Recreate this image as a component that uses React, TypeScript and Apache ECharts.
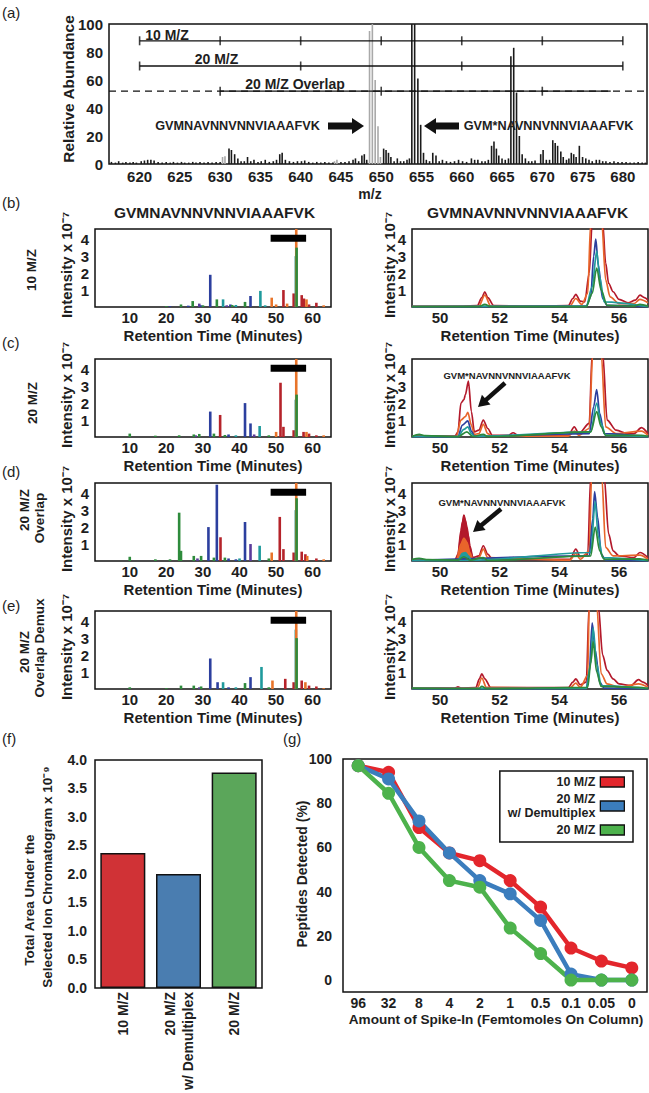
import React, { useEffect, useRef } from "react";
import * as echarts from "echarts";

const FONT = '"Liberation Sans", Arial, sans-serif';
const INK = "#1e1e1e";

// ---------- (a) spectrum ----------
const mzTicks = [620, 625, 630, 635, 640, 645, 650, 655, 660, 665, 670, 675, 680];
const abundanceTicks = [0, 20, 40, 60, 80, 100];
const spectrumUnmod: [number, number][] = [
  [630.3, 5], [630.6, 5.5], [644.2, 2], [644.5, 3],
  [648.55, 95], [648.9, 100], [649.25, 60], [649.6, 27], [649.9, 5],
];
const spectrumOther: [number, number][] = [
  [616.5, 1.5], [617.0, 1], [617.4, 2], [617.9, 1], [618.3, 1.5], [618.8, 1], [619.2, 1.5], [619.6, 1],
  [620.2, 2], [620.6, 2.5], [621.0, 3], [621.4, 3], [621.8, 2.5], [622.3, 1.5], [622.8, 1], [623.3, 1.5],
  [623.8, 1], [624.2, 1.5], [624.7, 1], [625.2, 1.5], [625.6, 1], [626.1, 1], [626.6, 1.5], [627.0, 1],
  [627.5, 1.5], [628.0, 1], [628.5, 1.5], [629.0, 1], [629.5, 1.5], [630.0, 1.5],
  [631.1, 11], [631.4, 10], [631.8, 7], [632.2, 4], [632.6, 2], [633.0, 2], [633.4, 5], [633.8, 2],
  [634.2, 3], [634.7, 1.5], [635.1, 2], [635.6, 3], [636.1, 1.5], [636.6, 2], [637.0, 3], [637.4, 7],
  [637.7, 8], [638.1, 3], [638.6, 2], [639.1, 1.5], [639.6, 2], [640.1, 2], [640.5, 2.5], [641.0, 1.5],
  [641.5, 1], [642.0, 1.5], [642.5, 1], [643.0, 1.5], [643.5, 1], [644.0, 1], [645.0, 1.5], [645.5, 1.5],
  [646.0, 2], [646.5, 3], [646.8, 4], [647.2, 2], [647.6, 6], [647.9, 7], [648.2, 3],
  [650.3, 11], [650.6, 10], [650.9, 8], [651.2, 5], [651.6, 2], [652.0, 4], [652.4, 2], [652.8, 2],
  [653.2, 3], [653.5, 4],
  [653.8, 100], [654.15, 100], [654.55, 61], [654.9, 28], [655.25, 8], [655.6, 3], [656.0, 2],
  [656.4, 8], [656.8, 6], [657.2, 2], [657.6, 3], [658.1, 2], [658.6, 1.5], [659.1, 2], [659.6, 3],
  [660.1, 2], [660.6, 1.5], [661.2, 4], [661.6, 3], [662.0, 3], [662.5, 2], [662.9, 2], [663.3, 3],
  [663.7, 13], [664.0, 16], [664.3, 11], [664.6, 6], [665.0, 4], [665.4, 3], [665.8, 4],
  [666.1, 77], [666.45, 83], [666.8, 51], [667.15, 20], [667.5, 7], [667.9, 4], [668.3, 2], [668.7, 2],
  [669.1, 2.5], [669.8, 7], [670.1, 10], [670.5, 3], [670.9, 3],
  [671.3, 17], [671.6, 15], [671.9, 13], [672.3, 9], [672.6, 5], [673.0, 3], [673.3, 4],
  [673.6, 8], [673.9, 7], [674.2, 5], [674.6, 13], [675.0, 5], [675.4, 4], [675.8, 3], [676.2, 2],
  [676.7, 3], [677.1, 3], [677.5, 2], [677.9, 2], [678.4, 1.5], [678.9, 2], [679.4, 1.5], [679.9, 1.5],
  [680.4, 1.5], [680.9, 1], [681.4, 1], [681.9, 1.5], [682.4, 1], [682.8, 1],
];
const win10 = [620, 630, 640, 650, 660, 670, 680];
const win20 = [620, 640, 660, 680];
const winOverlap = [630, 650, 670];
const winLevel10 = 88;
const winLevel20 = 70;
const winLevelOverlap = 52;
const overlapSolidEnd = 678.5;

// ---------- (b)-(e) chromatograms ----------
const chromTicksLeft = [10, 20, 30, 40, 50, 60];
const chromTicksRight = [50, 52, 54, 56];
const intensityTicks = [1, 2, 3, 4];
const peptide = "GVMNAVNNVNNVIAAAFVK";
const peptideOx = "GVM*NAVNNVNNVIAAAFVK";
const markerSpan = [48.5, 58.2];
const markerLevel = 4.05;

type P = [number, number][];
const leftB: Record<string, P> = {
  purple: [[29, 0.2], [36.5, 0.1]],
  blue: [[21, 0.05], [26, 0.08], [29.5, 0.1], [32, 1.9], [37.5, 0.15], [43, 0.65]],
  red: [[52, 1.0], [54.8, 0.8], [57, 0.7], [57.6, 0.5], [59, 0.15], [61, 0.25]],
  teal: [[35.5, 0.45], [39, 0.12], [45.7, 0.95], [47, 0.1], [55.4, 3.0]],
  orange: [[48.8, 0.55], [50, 0.15], [53, 0.2], [55.5, 5], [58.3, 0.45], [63, 0.1]],
  green: [[20, 0.05], [24, 0.15], [27.2, 0.35], [30, 0.1], [33.8, 0.45], [38, 0.12], [41.5, 0.3], [55.6, 3.5]],
};
const leftC: Record<string, P> = {
  purple: [[28, 0.1], [44, 0.15]],
  blue: [[32, 1.5], [37, 0.15], [41.5, 2.0], [43, 0.8]],
  red: [[34.7, 1.3], [51.2, 3.2], [52, 0.6], [54.8, 0.4], [57.5, 0.3], [59, 0.2], [61, 0.1]],
  teal: [[39, 0.1], [45.5, 0.65], [55.4, 2.2]],
  orange: [[50, 0.3], [55.5, 5], [58.3, 0.3], [63, 0.1]],
  green: [[10, 0.2], [17, 0.08], [23.5, 0.1], [27.5, 0.15], [29, 0.18], [33, 0.2], [36, 0.12], [48, 0.1], [55.6, 2.5]],
};
const leftD: Record<string, P> = {
  purple: [[28.5, 0.15], [43, 1.0]],
  blue: [[31.5, 2.0], [33.8, 4.5], [37, 0.15], [39, 0.1], [41.5, 2.3]],
  red: [[34.8, 1.4], [51, 2.6], [52, 0.7], [54.8, 0.5], [57, 0.55], [58, 0.4], [61, 0.15]],
  teal: [[40, 0.15], [45.5, 0.9], [55.4, 3.0]],
  orange: [[48.8, 0.5], [55.5, 5], [58.5, 0.3], [63, 0.1]],
  green: [[10, 0.25], [17, 0.1], [21, 0.1], [23.5, 2.85], [24, 0.6], [27.5, 0.3], [29.5, 0.3], [33, 0.2], [36, 0.2], [48, 0.15], [55.6, 3.7]],
};
const leftE: Record<string, P> = {
  purple: [[29, 0.1]],
  blue: [[32, 1.8], [34, 0.4], [37, 0.1], [43, 0.7]],
  red: [[52.5, 0.6], [54.8, 0.4], [57, 0.5], [59, 0.2], [61, 0.15]],
  teal: [[35.5, 0.4], [39, 0.1], [46, 1.3], [55.4, 3.5]],
  orange: [[49, 0.5], [55.5, 5], [58, 0.4], [63, 0.05]],
  green: [[10, 0.1], [20, 0.05], [24, 0.2], [27.5, 0.2], [29.5, 0.15], [41.5, 0.35], [48, 0.1], [55.6, 3.0]],
};

const rightB: Record<string, P> = {
  darkred: [[49.06, 0.04], [50.5, 0.04], [51.25, 0.08], [51.4, 0.55], [51.5, 0.9], [51.6, 0.55], [51.8, 0.08], [53.0, 0.05], [54.3, 0.08], [54.45, 0.5], [54.55, 0.75], [54.7, 0.35], [54.85, 0.3], [55.0, 2.0], [55.1, 5], [55.45, 5], [55.55, 2.6], [55.65, 1.4], [55.8, 0.9], [56.0, 0.45], [56.3, 0.25], [56.55, 0.4], [56.7, 0.7], [56.85, 0.55], [56.97, 0.4]],
  orange: [[49.06, 0.03], [51.3, 0.05], [51.5, 0.7], [51.7, 0.05], [54.35, 0.05], [54.55, 0.5], [54.75, 0.15], [54.95, 0.8], [55.05, 5], [55.42, 5], [55.55, 1.6], [55.7, 0.6], [56.0, 0.2], [56.5, 0.2], [56.7, 0.45], [56.97, 0.25]],
  blue: [[49.06, 0.02], [54.9, 0.05], [55.05, 0.6], [55.15, 3.0], [55.22, 4.0], [55.3, 2.5], [55.45, 0.5], [55.6, 0.1], [56.97, 0.02]],
  teal: [[49.06, 0.02], [54.9, 0.04], [55.1, 1.2], [55.25, 3.3], [55.35, 1.8], [55.5, 0.3], [56.97, 0.02]],
  green: [[49.06, 0.02], [51.3, 0.02], [51.5, 0.15], [51.7, 0.02], [54.9, 0.02], [55.1, 0.8], [55.25, 2.3], [55.4, 1.0], [55.6, 0.1], [56.5, 0.05], [56.7, 0.15], [56.97, 0.05]],
};
const rightC: Record<string, P> = {
  darkred: [[49.06, 0.05], [50.5, 0.05], [50.6, 0.3], [50.7, 2.0], [50.8, 2.2], [50.85, 2.5], [50.95, 3.3], [51.05, 1.5], [51.15, 0.3], [51.3, 0.4], [51.45, 1.0], [51.6, 0.5], [51.75, 0.1], [52.3, 0.1], [52.45, 0.25], [52.6, 0.1], [54.3, 0.1], [54.5, 0.6], [54.65, 0.2], [55.0, 0.8], [55.1, 5], [55.45, 5], [55.6, 1.0], [55.9, 0.4], [56.3, 0.2], [56.5, 0.2], [56.75, 0.55], [56.97, 0.2]],
  orange: [[49.06, 0.03], [50.55, 0.05], [50.7, 1.0], [50.85, 1.2], [50.93, 1.45], [51.05, 0.7], [51.15, 0.15], [51.3, 0.2], [51.45, 0.75], [51.6, 0.2], [51.75, 0.05], [54.3, 0.05], [54.5, 0.35], [54.65, 0.1], [55.0, 0.5], [55.12, 5], [55.4, 5], [55.55, 0.6], [55.9, 0.2], [56.75, 0.35], [56.97, 0.1]],
  blue: [[49.06, 0.02], [50.6, 0.03], [50.75, 0.7], [50.93, 0.95], [51.05, 0.35], [51.15, 0.05], [55.0, 0.2], [55.15, 1.8], [55.25, 2.8], [55.35, 1.4], [55.5, 0.2], [56.97, 0.02]],
  teal: [[49.06, 0.02], [50.6, 0.02], [50.8, 0.45], [50.93, 0.6], [51.05, 0.2], [51.15, 0.03], [55.05, 0.3], [55.25, 2.0], [55.4, 0.8], [55.55, 0.1], [56.97, 0.02]],
  green: [[49.06, 0.03], [49.3, 0.15], [49.5, 0.08], [50.6, 0.02], [50.9, 0.3], [51.1, 0.03], [51.45, 0.15], [51.6, 0.02], [55.05, 0.3], [55.25, 1.5], [55.4, 0.6], [55.55, 0.1], [56.75, 0.1], [56.97, 0.03]],
};
const rightD: Record<string, P> = {
  darkred: [[49.06, 0.04], [50.5, 0.05], [50.6, 0.4], [50.7, 1.8], [50.75, 2.3], [50.8, 2.7], [50.85, 2.4], [50.9, 2.0], [50.95, 1.5], [51.0, 0.9], [51.1, 0.2], [51.3, 0.3], [51.45, 0.9], [51.6, 0.4], [51.75, 0.1], [52.35, 0.1], [52.45, 0.2], [52.6, 0.1], [54.35, 0.1], [54.55, 0.7], [54.7, 0.25], [54.95, 0.4], [55.05, 5], [55.5, 5], [55.65, 1.6], [55.8, 0.6], [56.0, 0.3], [56.5, 0.2], [56.7, 0.5], [56.97, 0.2]],
  orange: [[49.06, 0.03], [50.55, 0.05], [50.7, 1.0], [50.8, 1.35], [50.9, 1.1], [51.0, 0.5], [51.1, 0.1], [51.3, 0.2], [51.45, 0.7], [51.6, 0.2], [54.35, 0.05], [54.55, 0.45], [54.7, 0.1], [55.0, 0.6], [55.08, 5], [55.42, 5], [55.55, 0.8], [55.8, 0.3], [56.7, 0.35], [56.97, 0.1]],
  blue: [[49.06, 0.02], [55.0, 0.3], [55.12, 2.5], [55.18, 4.1], [55.28, 2.6], [55.4, 0.4], [55.55, 0.05], [56.97, 0.02]],
  teal: [[49.06, 0.02], [50.6, 0.03], [50.75, 0.45], [50.85, 0.5], [50.95, 0.3], [51.05, 0.05], [55.05, 0.5], [55.2, 3.5], [55.3, 1.5], [55.45, 0.2], [56.97, 0.02]],
  green: [[49.06, 0.1], [49.3, 0.15], [49.6, 0.08], [50.6, 0.05], [50.8, 0.25], [51.0, 0.05], [51.45, 0.2], [51.6, 0.03], [55.05, 0.3], [55.2, 2.0], [55.35, 0.6], [55.5, 0.1], [56.7, 0.12], [56.97, 0.03]],
};
const rightE: Record<string, P> = {
  darkred: [[49.06, 0.04], [50.5, 0.06], [50.6, 0.12], [50.7, 0.05], [51.2, 0.08], [51.32, 0.6], [51.4, 0.9], [51.5, 0.6], [51.7, 0.08], [54.3, 0.08], [54.45, 0.4], [54.55, 0.6], [54.7, 0.25], [54.9, 0.4], [55.0, 5], [55.3, 5], [55.45, 2.0], [55.6, 1.1], [55.8, 0.6], [56.0, 0.3], [56.4, 0.2], [56.65, 0.55], [56.8, 0.4], [56.97, 0.2]],
  orange: [[49.06, 0.03], [51.25, 0.05], [51.4, 0.65], [51.55, 0.1], [54.35, 0.05], [54.55, 0.35], [54.7, 0.1], [54.95, 0.8], [55.0, 5], [55.25, 5], [55.4, 0.9], [55.6, 0.3], [56.0, 0.1], [56.65, 0.3], [56.97, 0.1]],
  blue: [[49.06, 0.02], [54.9, 0.03], [55.0, 1.0], [55.1, 3.9], [55.2, 2.3], [55.35, 0.4], [55.5, 0.05], [56.97, 0.02]],
  teal: [[49.06, 0.02], [54.9, 0.03], [55.05, 1.5], [55.13, 3.6], [55.25, 1.5], [55.4, 0.2], [56.97, 0.02]],
  green: [[49.06, 0.05], [51.3, 0.02], [51.4, 0.15], [51.55, 0.02], [54.95, 0.1], [55.05, 1.5], [55.13, 2.8], [55.25, 1.0], [55.4, 0.15], [56.65, 0.1], [56.97, 0.03]],
};
const fillWindow = [50.5, 51.15];

// ---------- (f) ----------
const areaCategories = ["10 M/Z", "20 M/Z\nw/ Demultiplex", "20 M/Z"];
const areaValues = [2.37, 2.0, 3.78];
const areaColors = ["#d03236", "#4a7db0", "#5ba65a"];

// ---------- (g) ----------
const spikeCategories = ["96", "32", "8", "4", "2", "1", "0.5", "0.1", "0.05", "0"];
const detected10 = [97, 94, 69, 57.5, 54, 45, 33, 14.5, 8.6, 5.5];
const detected20Demux = [97, 91, 72, 57.5, 45, 39, 27, 2.7, 0, 0];
const detected20 = [97, 84.5, 60, 45, 42, 23.5, 12, 0, 0, 0];
const detectedTicks = [0, 20, 40, 60, 80, 100];

// ---------- layout / style ----------
const ROW_TOPS = [229, 359, 483, 611];
const ROW_H = 78;
const LEFT_X = 95, LEFT_W = 236;
const RIGHT_X = 412, RIGHT_W = 236;
const chromColors: Record<string, string> = {
  purple: "#5b3a9a", blue: "#2c3f9e", red: "#b5232a", teal: "#1f9a9c", orange: "#e8742a", green: "#2e8b3c",
};
const rightColors: Record<string, string> = {
  darkred: "#b3192b", orange: "#e8652b", blue: "#2c3f9e", teal: "#229a9c", green: "#2c8a3c",
};

const only = (list: number[]) => (v: number) =>
  list.some((t) => Math.abs(t - v) < 1e-6) ? String(Math.round(v * 100) / 100) : "";

const labelStyle = (size: number, margin: number) => ({
  fontFamily: FONT, fontWeight: "bold", fontSize: size, color: INK, margin,
});

function txt(x: number, y: number, text: string, size: number, o: any = {}) {
  const align = o.align ?? "center";
  const va = o.va ?? "middle";
  return {
    type: "text", x, y, rotation: o.rot ?? 0, silent: true, z: 100,
    style: {
      text, fill: INK, font: `${o.weight ?? "bold"} ${size}px ${FONT}`,
      align, verticalAlign: va, textAlign: align, textVerticalAlign: va,
    },
  };
}

function arrowDiag(tail: [number, number], tip: [number, number]) {
  const dx = tip[0] - tail[0], dy = tip[1] - tail[1];
  const len = Math.hypot(dx, dy);
  const ux = dx / len, uy = dy / len;
  const nx = -uy, ny = ux;
  const hl = 11, hw = 6.5;
  const bx = tip[0] - ux * hl, by = tip[1] - uy * hl;
  return [
    { type: "line", silent: true, z: 100, shape: { x1: tail[0], y1: tail[1], x2: bx + ux, y2: by + uy }, style: { stroke: "#111", lineWidth: 4.5 } },
    { type: "polygon", silent: true, z: 100, shape: { points: [[tip[0], tip[1]], [bx + nx * hw, by + ny * hw], [bx - nx * hw, by - ny * hw]] }, style: { fill: "#111" } },
  ];
}

function blockArrow(x1: number, x2: number, y: number) {
  const dir = x2 > x1 ? 1 : -1;
  const hx = x2 - 12 * dir;
  return {
    type: "polygon", silent: true, z: 100,
    shape: { points: [[x1, y - 3.5], [hx, y - 3.5], [hx, y - 8], [x2, y], [hx, y + 8], [hx, y + 3.5], [x1, y + 3.5]] },
    style: { fill: "#111" },
  };
}

function buildOption() {
  const grid: any[] = [];
  const xAxis: any[] = [];
  const yAxis: any[] = [];
  const series: any[] = [];
  const graphic: any[] = [];
  const border = { show: true, borderColor: "#111", borderWidth: 1.5, backgroundColor: "transparent" };
  const hidden = { axisLine: { show: false }, axisTick: { show: false }, splitLine: { show: false } };

  // (a)
  grid.push({ left: 109, top: 24, width: 538, height: 140, ...border });
  xAxis.push({ type: "value", gridIndex: 0, min: 616.2, max: 683, minInterval: 5, maxInterval: 5, ...hidden,
    axisLabel: { ...labelStyle(15, 5), formatter: only(mzTicks), showMinLabel: false, showMaxLabel: false } });
  yAxis.push({ type: "value", gridIndex: 0, min: 0, max: 100, interval: 20, ...hidden,
    axisLabel: { ...labelStyle(15, 6), formatter: only(abundanceTicks) } });
  series.push({ type: "bar", xAxisIndex: 0, yAxisIndex: 0, data: spectrumUnmod, barWidth: 1.6, barGap: "-100%", itemStyle: { color: "#a9a9a9" }, silent: true });
  series.push({ type: "bar", xAxisIndex: 0, yAxisIndex: 0, data: spectrumOther, barWidth: 1.6, barGap: "-100%", itemStyle: { color: "#1a1a1a" }, silent: true });
  const segLine = (data: number[][], dashed = false) => ({
    type: "line", xAxisIndex: 0, yAxisIndex: 0, data, showSymbol: false, silent: true, z: 5,
    lineStyle: { color: "#111", width: 1.3, type: dashed ? [7, 5] : "solid" },
  });
  const ticks = (xs: number[], level: number) => ({
    type: "scatter", xAxisIndex: 0, yAxisIndex: 0, data: xs.map((m) => [m, level]), symbol: "rect",
    symbolSize: [1.6, 9], itemStyle: { color: "#111" }, silent: true, z: 5,
  });
  series.push(segLine([[win10[0], winLevel10], [win10[win10.length - 1], winLevel10]]));
  series.push(ticks(win10, winLevel10));
  series.push(segLine([[win20[0], winLevel20], [win20[win20.length - 1], winLevel20]]));
  series.push(ticks(win20, winLevel20));
  series.push(segLine([[616.2, winLevelOverlap], [683, winLevelOverlap]], true));
  series.push(segLine([[winOverlap[0], winLevelOverlap], [overlapSolidEnd, winLevelOverlap]]));
  series.push(ticks(winOverlap, winLevelOverlap));

  graphic.push(txt(2, 12, "(a)", 15, { align: "left", weight: "normal" }));
  graphic.push(txt(68, 89, "Relative Abundance", 15.5, { rot: Math.PI / 2 }));
  graphic.push(txt(370, 194, "m/z", 14));
  graphic.push(txt(167, 35, "10 M/Z", 14));
  graphic.push(txt(216.5, 59, "20 M/Z", 14));
  graphic.push(txt(295, 84, "20 M/Z Overlap", 14));
  graphic.push(txt(237.5, 126, peptide, 12.7));
  graphic.push(blockArrow(328, 364, 126));
  graphic.push(txt(548.5, 126, peptideOx, 12.7));
  graphic.push(blockArrow(459, 424, 126));

  // (b)-(e)
  const lefts = [leftB, leftC, leftD, leftE];
  const rights = [rightB, rightC, rightD, rightE];
  const tags = ["(b)", "(c)", "(d)", "(e)"];
  const tagY = [202, 342, 471, 605];
  const rowLabels: { x: number; y: number; t: string }[][] = [
    [{ x: 31, y: 270, t: "10 M/Z" }],
    [{ x: 32, y: 403, t: "20 M/Z" }],
    [{ x: 24, y: 510, t: "20 M/Z" }, { x: 39, y: 518, t: "Overlap" }],
    [{ x: 24, y: 652, t: "20 M/Z" }, { x: 39, y: 648, t: "Overlap Demux" }],
  ];
  for (let r = 0; r < 4; r++) {
    const top = ROW_TOPS[r];
    const gi = grid.length;
    grid.push({ left: LEFT_X, top, width: LEFT_W, height: ROW_H, ...border });
    xAxis.push({ type: "value", gridIndex: gi, min: 0.5, max: 65, minInterval: 10, maxInterval: 10, ...hidden,
      axisLabel: { ...labelStyle(15, 3), formatter: only(chromTicksLeft), showMinLabel: false, showMaxLabel: false } });
    yAxis.push({ type: "value", gridIndex: gi, min: 0, max: 4.6, interval: 1, ...hidden,
      axisLabel: { ...labelStyle(15, 6), formatter: only(intensityTicks) } });
    const L = lefts[r];
    for (const c of ["purple", "blue", "red", "teal", "orange", "green"]) {
      series.push({ type: "bar", xAxisIndex: gi, yAxisIndex: gi, data: L[c], barWidth: 2.6, barGap: "-100%",
        itemStyle: { color: chromColors[c] }, silent: true, clip: true });
    }
    series.push({ type: "line", xAxisIndex: gi, yAxisIndex: gi, data: markerSpan.map((t) => [t, markerLevel]),
      showSymbol: false, silent: true, z: 6, lineStyle: { color: "#000", width: 7, cap: "butt" } });

    const gj = grid.length;
    grid.push({ left: RIGHT_X, top, width: RIGHT_W, height: ROW_H, ...border });
    xAxis.push({ type: "value", gridIndex: gj, min: 49.06, max: 56.97, minInterval: 2, maxInterval: 2, ...hidden,
      axisLabel: { ...labelStyle(15, 3), formatter: only(chromTicksRight), showMinLabel: false, showMaxLabel: false } });
    yAxis.push({ type: "value", gridIndex: gj, min: 0, max: 4.6, interval: 1, ...hidden,
      axisLabel: { ...labelStyle(15, 6), formatter: only(intensityTicks) } });
    const R = rights[r];
    if (r === 2) {
      for (const c of ["darkred", "orange", "teal"]) {
        series.push({ type: "line", xAxisIndex: gj, yAxisIndex: gj,
          data: R[c].filter((p) => p[0] >= fillWindow[0] && p[0] <= fillWindow[1]),
          showSymbol: false, silent: true, lineStyle: { width: 0.8, color: rightColors[c] },
          areaStyle: { color: rightColors[c], opacity: 1 } });
      }
    }
    for (const c of ["darkred", "orange", "blue", "teal", "green"]) {
      series.push({ type: "line", xAxisIndex: gj, yAxisIndex: gj, data: R[c], showSymbol: false, silent: true,
        smooth: 0.3, smoothMonotone: "x", clip: true, lineStyle: { width: 1.7, color: rightColors[c] } });
    }

    graphic.push(txt(2, tagY[r], tags[r], 15, { align: "left", weight: "normal" }));
    for (const rl of rowLabels[r]) graphic.push(txt(rl.x, rl.y, rl.t, 13.5, { rot: Math.PI / 2 }));
    graphic.push(txt(66, top + 36, "Intensity x 10\u207B\u2077", 15, { rot: Math.PI / 2 }));
    graphic.push(txt(389, top + 36, "Intensity x 10\u207B\u2077", 15, { rot: Math.PI / 2 }));
    graphic.push(txt(LEFT_X + LEFT_W / 2, top + ROW_H + 28, "Retention Time (Minutes)", 15));
    graphic.push(txt(RIGHT_X + RIGHT_W / 2, top + ROW_H + 28, "Retention Time (Minutes)", 15));
  }
  graphic.push(txt(214.5, 212, peptide, 15.5));
  graphic.push(txt(527.5, 212, peptide, 15.5));
  graphic.push(txt(507, 375, peptideOx, 9.5));
  graphic.push(...arrowDiag([505, 383], [478, 407]));
  graphic.push(txt(502, 502, peptideOx, 9.5));
  graphic.push(...arrowDiag([501, 509], [473, 532]));

  // (f)
  const gf = grid.length;
  grid.push({ left: 95, top: 760, width: 167, height: 232, ...border });
  xAxis.push({ type: "category", gridIndex: gf, data: areaCategories, ...hidden,
    axisLabel: { ...labelStyle(14, 4), rotate: 90, interval: 0, lineHeight: 18 } });
  yAxis.push({ type: "value", gridIndex: gf, min: 0, max: 4, interval: 0.5, ...hidden,
    axisLabel: { ...labelStyle(14, 8), formatter: (v: number) => v.toFixed(1) } });
  series.push({ type: "bar", xAxisIndex: gf, yAxisIndex: gf, barWidth: 45, silent: true,
    data: areaValues.map((v, i) => ({ value: v, itemStyle: { color: areaColors[i] } })),
    itemStyle: { borderColor: "#111", borderWidth: 1.5 } });
  graphic.push(txt(2, 738, "(f)", 15, { align: "left", weight: "normal" }));
  graphic.push(txt(29, 900, "Total Area Under the", 13.5, { rot: Math.PI / 2 }));
  graphic.push(txt(47, 877, "Selected Ion Chromatogram x 10\u207B\u2079", 13.5, { rot: Math.PI / 2 }));

  // (g)
  const gg = grid.length;
  grid.push({ left: 343, top: 759, width: 304, height: 233, ...border });
  xAxis.push({ type: "category", gridIndex: gg, data: spikeCategories, boundaryGap: true, ...hidden,
    axisLabel: { ...labelStyle(14, 4), interval: 0 } });
  yAxis.push({ type: "value", gridIndex: gg, min: -5.4, max: 100, minInterval: 20, maxInterval: 20, ...hidden,
    axisLabel: { ...labelStyle(14, 11), formatter: only(detectedTicks), showMinLabel: false } });
  const gLine = (name: string, data: number[], color: string) => ({
    type: "line", name, xAxisIndex: gg, yAxisIndex: gg, data, symbol: "circle", symbolSize: 13, silent: true,
    lineStyle: { color, width: 4.5 }, itemStyle: { color },
  });
  series.push(gLine("10 M/Z", detected10, "#e3262c"));
  series.push(gLine("20 M/Z\nw/ Demultiplex", detected20Demux, "#3b7dbd"));
  series.push(gLine("20 M/Z", detected20, "#4db24c"));
  graphic.push(txt(283, 738, "(g)", 15, { align: "left", weight: "normal" }));
  graphic.push(txt(302, 874, "Peptides Detected (%)", 14, { rot: Math.PI / 2 }));
  graphic.push(txt(496, 1019, "Amount of Spike-In (Femtomoles On Column)", 13.6));

  return {
    animation: false,
    backgroundColor: "#ffffff",
    grid, xAxis, yAxis, series, graphic,
    legend: {
      data: ["10 M/Z", "20 M/Z\nw/ Demultiplex", "20 M/Z"].map((n) => ({ name: n, icon: "rect" })),
      orient: "vertical", right: 16, top: 771, align: "right",
      itemWidth: 24, itemHeight: 10, itemGap: 3,
      padding: [4, 8, 5, 8],
      borderColor: "#111", borderWidth: 1.5, backgroundColor: "#fff",
      itemStyle: { borderColor: "#111", borderWidth: 1.3 },
      textStyle: { fontFamily: FONT, fontWeight: "bold", fontSize: 12.5, color: INK, lineHeight: 14 },
      selectedMode: false,
    },
  };
}

export default function App() {
  const ref = useRef<HTMLDivElement>(null);
  useEffect(() => {
    const chart = echarts.init(ref.current!, null, { renderer: "svg" });
    chart.setOption(buildOption() as any);
    return () => chart.dispose();
  }, []);
  return (
    <div
      ref={ref}
      style={{ position: "absolute", left: 0, top: 0, width: 649, height: 1093, background: "#fff" }}
    />
  );
}
